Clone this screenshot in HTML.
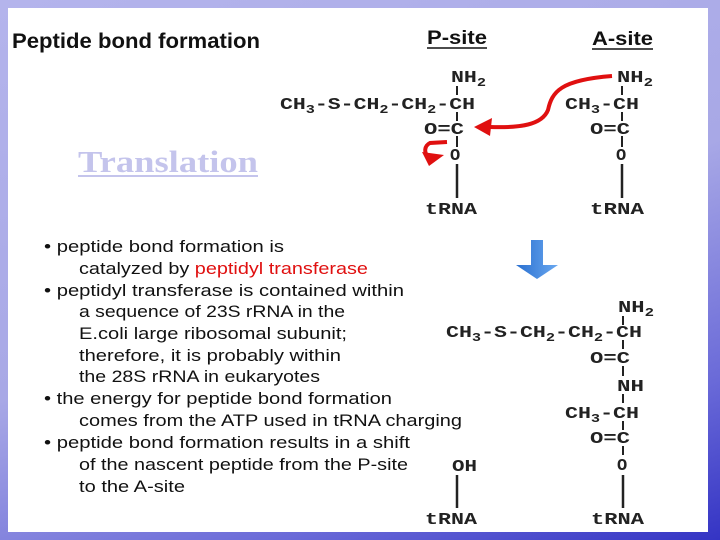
<!DOCTYPE html>
<html><head><style>
html,body{margin:0;padding:0;width:720px;height:540px;overflow:hidden}
body{background:linear-gradient(160deg,#b4b4ec 0%,#a8a8e6 50%,#6a6ad8 80%,#3434c4 100%)}
svg{position:absolute;left:0;top:0}
.m{font-family:"Liberation Mono",monospace;font-weight:bold;font-size:17px;fill:#222}
.t{font-family:"Liberation Sans",sans-serif;font-size:17px;fill:#111}
.b{font-size:12px}
</style></head><body>
<svg width="720" height="540" viewBox="0 0 720 540">
<rect x="8" y="8" width="700" height="524" fill="#fff"/>
<text x="12" y="48" font-family="Liberation Sans" font-weight="bold" font-size="21" fill="#111" textLength="248" lengthAdjust="spacingAndGlyphs">Peptide bond formation</text>
<text x="427" y="44" font-family="Liberation Sans" font-weight="bold" font-size="19" fill="#111" textLength="60" lengthAdjust="spacingAndGlyphs">P-site</text>
<line x1="427" y1="48" x2="487" y2="48" stroke="#111" stroke-width="1.5"/>
<text x="592" y="45" font-family="Liberation Sans" font-weight="bold" font-size="19" fill="#111" textLength="61" lengthAdjust="spacingAndGlyphs">A-site</text>
<line x1="592" y1="49" x2="653" y2="49" stroke="#111" stroke-width="1.5"/>
<text x="78" y="172" font-family="Liberation Serif" font-weight="bold" font-size="31" fill="#c4c4ec" textLength="180" lengthAdjust="spacingAndGlyphs">Translation</text>
<line x1="78" y1="176" x2="258" y2="176" stroke="#c4c4ec" stroke-width="2"/>

<g class="m">
<!-- P-site -->
<text x="451" y="82" textLength="35" lengthAdjust="spacingAndGlyphs">NH<tspan class="b" dy="4">2</tspan></text>
<text x="280" y="109" textLength="195" lengthAdjust="spacingAndGlyphs">CH<tspan class="b" dy="4">3</tspan><tspan dy="-4">-S-CH</tspan><tspan class="b" dy="4">2</tspan><tspan dy="-4">-CH</tspan><tspan class="b" dy="4">2</tspan><tspan dy="-4">-CH</tspan></text>
<text x="424" y="134" textLength="40" lengthAdjust="spacingAndGlyphs">O=C</text>
<text x="450" y="160">O</text>
<text x="425" y="214" textLength="52" lengthAdjust="spacingAndGlyphs">tRNA</text>
<!-- A-site -->
<text x="617" y="82" textLength="36" lengthAdjust="spacingAndGlyphs">NH<tspan class="b" dy="4">2</tspan></text>
<text x="565" y="109" textLength="74" lengthAdjust="spacingAndGlyphs">CH<tspan class="b" dy="4">3</tspan><tspan dy="-4">-CH</tspan></text>
<text x="590" y="134" textLength="40" lengthAdjust="spacingAndGlyphs">O=C</text>
<text x="616" y="160">O</text>
<text x="590" y="214" textLength="54" lengthAdjust="spacingAndGlyphs">tRNA</text>
<!-- product -->
<text x="452" y="471" textLength="25" lengthAdjust="spacingAndGlyphs">OH</text>
<text x="425" y="524" textLength="52" lengthAdjust="spacingAndGlyphs">tRNA</text>
<text x="618" y="312" textLength="36" lengthAdjust="spacingAndGlyphs">NH<tspan class="b" dy="4">2</tspan></text>
<text x="446" y="337" textLength="196" lengthAdjust="spacingAndGlyphs">CH<tspan class="b" dy="4">3</tspan><tspan dy="-4">-S-CH</tspan><tspan class="b" dy="4">2</tspan><tspan dy="-4">-CH</tspan><tspan class="b" dy="4">2</tspan><tspan dy="-4">-CH</tspan></text>
<text x="590" y="363" textLength="40" lengthAdjust="spacingAndGlyphs">O=C</text>
<text x="617" y="391" textLength="27" lengthAdjust="spacingAndGlyphs">NH</text>
<text x="565" y="418" textLength="74" lengthAdjust="spacingAndGlyphs">CH<tspan class="b" dy="4">3</tspan><tspan dy="-4">-CH</tspan></text>
<text x="590" y="443" textLength="40" lengthAdjust="spacingAndGlyphs">O=C</text>
<text x="617" y="470">O</text>
<text x="591" y="524" textLength="53" lengthAdjust="spacingAndGlyphs">tRNA</text>
</g>
<g stroke="#222" stroke-width="2">
<line x1="457" y1="86" x2="457" y2="95"/><line x1="457" y1="112" x2="457" y2="121"/><line x1="457" y1="136" x2="457" y2="147"/>
<line x1="457" y1="164" x2="457" y2="198" stroke-width="2.5"/>
<line x1="622" y1="86" x2="622" y2="95"/><line x1="622" y1="112" x2="622" y2="121"/><line x1="622" y1="136" x2="622" y2="147"/>
<line x1="622" y1="164" x2="622" y2="198" stroke-width="2.5"/>
<line x1="457" y1="475" x2="457" y2="508" stroke-width="2.5"/>
<line x1="623" y1="316" x2="623" y2="325"/><line x1="623" y1="340" x2="623" y2="349"/><line x1="623" y1="366" x2="623" y2="376"/>
<line x1="623" y1="394" x2="623" y2="403"/><line x1="623" y1="421" x2="623" y2="430"/><line x1="623" y1="446" x2="623" y2="455"/>
<line x1="623" y1="475" x2="623" y2="508" stroke-width="2.5"/>
</g>
<!-- red arrows -->
<path d="M612 76 C560 80 552 92 548 110 C542 125 520 128 490 127" fill="none" stroke="#e01010" stroke-width="4"/>
<polygon points="474,127 492,118 490,136" fill="#e01010"/>
<path d="M447 142 L430 143 C424 146 424 153 428 156" fill="none" stroke="#e01010" stroke-width="4"/>
<polygon points="422,152 444,155 429,166" fill="#e01010"/>
<!-- blue arrow -->
<defs><linearGradient id="g" x1="0" x2="1"><stop offset="0" stop-color="#2a70d0"/><stop offset="1" stop-color="#6aa8f0"/></linearGradient></defs>
<polygon points="531,240 543,240 543,265 558,265 537,279 516,265 531,265" fill="url(#g)"/>

<!-- bullets -->
<g class="t">
<text x="44" y="252" textLength="240" lengthAdjust="spacingAndGlyphs">• peptide bond formation is</text>
<text x="79" y="274" textLength="289" lengthAdjust="spacingAndGlyphs">catalyzed by <tspan fill="#e01010">peptidyl transferase</tspan></text>
<text x="44" y="296" textLength="360" lengthAdjust="spacingAndGlyphs">• peptidyl transferase is contained within</text>
<text x="79" y="317" textLength="266" lengthAdjust="spacingAndGlyphs">a sequence of 23S rRNA in the</text>
<text x="79" y="339" textLength="268" lengthAdjust="spacingAndGlyphs">E.coli large ribosomal subunit;</text>
<text x="79" y="361" textLength="262" lengthAdjust="spacingAndGlyphs">therefore, it is probably within</text>
<text x="79" y="382" textLength="241" lengthAdjust="spacingAndGlyphs">the 28S rRNA in eukaryotes</text>
<text x="44" y="404" textLength="348" lengthAdjust="spacingAndGlyphs">• the energy for peptide bond formation</text>
<text x="79" y="426" textLength="383" lengthAdjust="spacingAndGlyphs">comes from the ATP used in tRNA charging</text>
<text x="44" y="448" textLength="366" lengthAdjust="spacingAndGlyphs">• peptide bond formation results in a shift</text>
<text x="79" y="470" textLength="329" lengthAdjust="spacingAndGlyphs">of the nascent peptide from the P-site</text>
<text x="79" y="492" textLength="106" lengthAdjust="spacingAndGlyphs">to the A-site</text>
</g>
</svg>
</body></html>
